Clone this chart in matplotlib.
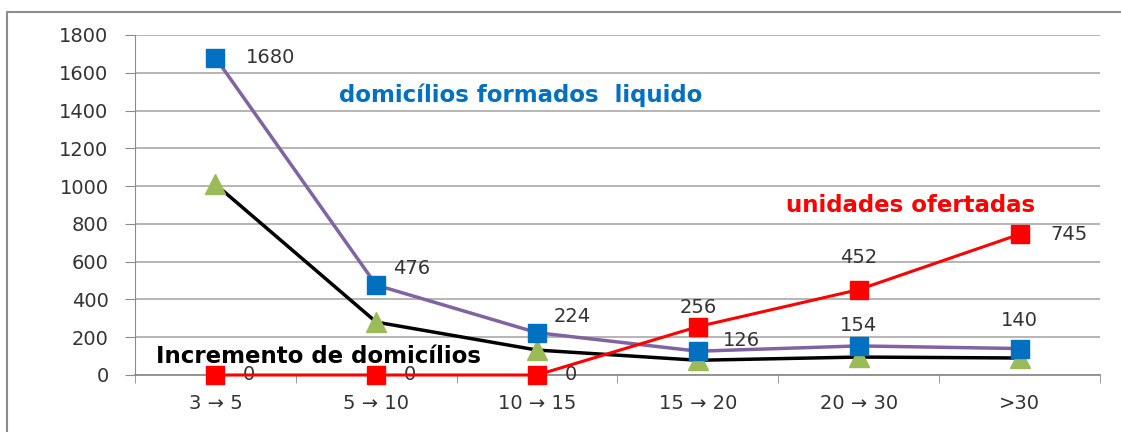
import matplotlib.pyplot as plt
from matplotlib.lines import Line2D

categories = ["3 → 5", "5 → 10", "10 → 15", "15 → 20", "20 → 30", ">30"]
formados = [1680, 476, 224, 126, 154, 140]
incremento = [1010, 280, 132, 78, 95, 90]
ofertadas = [0, 0, 0, 256, 452, 745]

fig = plt.figure(figsize=(11.21, 4.32), dpi=100)
ax = fig.add_axes([135 / 1121, 1 - 375 / 432, 965 / 1121, 340 / 432])

# outer frame of the chart: only top and left edges are inside the image
fx, fy = 7 / 1121, 1 - 12 / 432
fig.add_artist(Line2D([fx, fx, 1.0], [0.0, fy, fy], transform=fig.transFigure,
                      color="#8c8c8c", lw=1.5))

x = range(len(categories))
ax.plot(x, formados, color="#8064A2", lw=2.5, marker="s", ms=13,
        mfc="#0070C0", mec="#0070C0", zorder=4)
ax.plot(x, incremento, color="black", lw=2.5, marker="^", ms=14,
        mfc="#9BBB59", mec="#9BBB59", zorder=3)
ax.plot(x, ofertadas, color="#FF0000", lw=2.2, marker="s", ms=13,
        mfc="#FF0000", mec="#FF0000", zorder=5, clip_on=False)

lab = dict(fontsize=14, color="#333333", va="center")
formados_off = [(22, 0), (12, 12), (12, 12), (18, 8), (0, 15), (0, 20)]
for i, v in enumerate(formados):
    dx, dy = formados_off[i]
    ax.annotate(str(v), (i, v), xytext=(dx, dy), textcoords="offset points",
                ha="center" if dx == 0 else "left", **lab)
ofertadas_off = [(20, 0), (20, 0), (20, 0), (0, 14), (0, 23), (22, 0)]
for i, v in enumerate(ofertadas):
    dx, dy = ofertadas_off[i]
    ax.annotate(str(v), (i, v), xytext=(dx, dy), textcoords="offset points",
                ha="center" if dx == 0 else "left", **lab)

ax.text(1.9, 1480, "domicílios formados  liquido", color="#0070C0", fontsize=16.5,
        fontweight="bold", ha="center", va="center")
ax.text(4.32, 900, "unidades ofertadas", color="#FF0000", fontsize=16.5,
        fontweight="bold", ha="center", va="center")
ax.text(-0.37, 100, "Incremento de domicílios", color="black", fontsize=16.5,
        fontweight="bold", ha="left", va="center", zorder=6)

ax.set_xlim(-0.5, 5.5)
ax.set_ylim(0, 1800)
ax.set_yticks(range(0, 1801, 200))
ax.set_xticks(list(x))
ax.set_xticklabels(categories)
ax.set_xticks([i + 0.5 for i in range(-1, 6)], minor=True)
ax.tick_params(axis="x", which="major", length=0, pad=14, labelsize=14, labelcolor="#333333")
ax.tick_params(axis="x", which="minor", length=6, color="#8c8c8c", direction="out")
ax.tick_params(axis="y", length=7, color="#8c8c8c", labelsize=14, labelcolor="#333333", pad=12)
ax.grid(axis="y", color="#b0b0b0", lw=1.3)
ax.set_axisbelow(True)
for s in ["top", "right"]:
    ax.spines[s].set_visible(False)
ax.spines["left"].set_color("#8c8c8c")
ax.spines["bottom"].set_color("#8c8c8c")
ax.spines["bottom"].set_linewidth(1.3)

fig.savefig("out.png", dpi=100)
